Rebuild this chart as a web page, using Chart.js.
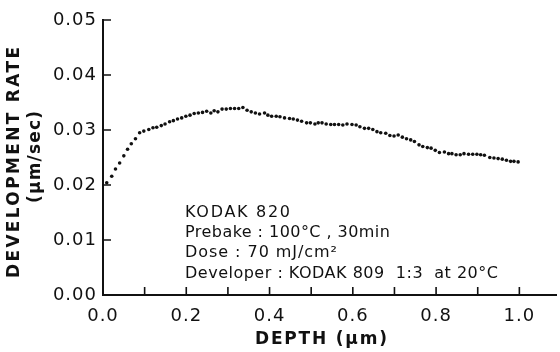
<!DOCTYPE html>
<html>
<head>
<meta charset="utf-8">
<title>Development rate vs depth</title>
<script src="https://cdn.jsdelivr.net/npm/chart.js@4.4.1/dist/chart.umd.min.js"></script>
<style>
  html, body { margin: 0; padding: 0; background: #fff; }
  .chart-box { width: 560px; height: 352px; }
</style>
</head>
<body>
<div class="chart-box"><canvas id="rateChart"></canvas></div>
<script>
// measured dissolution rate through the resist film
const depthUm = [
  0.009, 0.021, 0.030, 0.040, 0.050, 0.059, 0.068, 0.078, 0.088, 0.098,
  0.110, 0.120, 0.129, 0.140, 0.149, 0.160, 0.169, 0.179, 0.189, 0.199,
  0.209, 0.219, 0.229, 0.239, 0.249, 0.259, 0.267, 0.276, 0.286, 0.296,
  0.306, 0.316, 0.326, 0.336, 0.346, 0.356, 0.366, 0.376, 0.388, 0.396,
  0.405, 0.416, 0.425, 0.436, 0.448, 0.457, 0.467, 0.477, 0.489, 0.498,
  0.509, 0.517, 0.526, 0.536, 0.547, 0.556, 0.566, 0.576, 0.586, 0.598,
  0.608, 0.617, 0.628, 0.638, 0.648, 0.658, 0.667, 0.679, 0.689, 0.699,
  0.709, 0.719, 0.729, 0.739, 0.748, 0.759, 0.768, 0.779, 0.788, 0.798,
  0.808, 0.820, 0.830, 0.838, 0.848, 0.858, 0.867, 0.878, 0.888, 0.898,
  0.907, 0.916, 0.929, 0.939, 0.949, 0.959, 0.969, 0.979, 0.987, 0.997
];
const rateUmPerSec = [
  0.0204, 0.0216, 0.0229, 0.0240, 0.0253, 0.0265, 0.0275, 0.0284, 0.0295, 0.0298,
  0.0301, 0.0304, 0.0305, 0.0308, 0.0311, 0.0315, 0.0317, 0.0320, 0.0322, 0.0325,
  0.0327, 0.0330, 0.0331, 0.0332, 0.0334, 0.0331, 0.0335, 0.0333, 0.0338, 0.0338,
  0.0339, 0.0339, 0.0339, 0.0341, 0.0336, 0.0333, 0.0331, 0.0329, 0.0331, 0.0327,
  0.0325, 0.0325, 0.0324, 0.0322, 0.0321, 0.0320, 0.0318, 0.0316, 0.0313, 0.0313,
  0.0311, 0.0313, 0.0313, 0.0311, 0.0310, 0.0310, 0.0310, 0.0309, 0.0311, 0.0310,
  0.0309, 0.0306, 0.0303, 0.0303, 0.0301, 0.0297, 0.0295, 0.0294, 0.0290, 0.0289,
  0.0291, 0.0287, 0.0284, 0.0282, 0.0279, 0.0273, 0.0270, 0.0268, 0.0267, 0.0263,
  0.0259, 0.0260, 0.0257, 0.0257, 0.0255, 0.0255, 0.0257, 0.0256, 0.0256, 0.0256,
  0.0255, 0.0254, 0.0250, 0.0249, 0.0248, 0.0247, 0.0245, 0.0243, 0.0243, 0.0242
];

const xTicks = [0, 0.1, 0.2, 0.3, 0.4, 0.5, 0.6, 0.7, 0.8, 0.9, 1.0];
const xTickLabels = ['0.0', '', '0.2', '', '0.4', '', '0.6', '', '0.8', '', '1.0'];
const yTicks = [0, 0.01, 0.02, 0.03, 0.04, 0.05];
const yTickLabels = ['0.00', '0.01', '0.02', '0.03', '0.04', '0.05'];

const xTitle = 'DEPTH (μm)';
const yTitle = ['DEVELOPMENT RATE', '(μm/sec)'];
const notes = [
  'KODAK 820',
  'Prebake : 100°C , 30min',
  'Dose : 70 mJ/cm²',
  'Developer : KODAK 809  1:3  at 20°C'
];

const INK = '#111';
const FONT = '"DejaVu Sans", sans-serif';

// stretch a line of text out to a given width using canvas letter spacing
function drawStretched(ctx, text, x, y, width) {
  ctx.letterSpacing = '0px';
  const natural = ctx.measureText(text).width;
  const gap = Math.max(0, (width - natural) / Math.max(1, text.length - 1));
  ctx.letterSpacing = gap.toFixed(2) + 'px';
  ctx.fillText(text, x, y);
  ctx.letterSpacing = '0px';
}

// tick labels in the old lettering are set wide
const wideText = {
  id: 'wideText',
  beforeUpdate(chart) { chart.ctx.letterSpacing = '1px'; },
  beforeDraw(chart) { chart.ctx.letterSpacing = '1px'; }
};

// short tick marks pointing into the plot
const innerTicks = {
  id: 'innerTicks',
  afterDraw(chart) {
    const { ctx, chartArea, scales } = chart;
    const len = 8;
    ctx.save();
    ctx.strokeStyle = INK;
    ctx.lineWidth = 1.6;
    ctx.beginPath();
    scales.x.ticks.forEach(t => {
      if (t.value === 0) return;
      const px = scales.x.getPixelForValue(t.value);
      ctx.moveTo(px, chartArea.bottom);
      ctx.lineTo(px, chartArea.bottom - len);
    });
    scales.y.ticks.forEach(t => {
      if (t.value === 0) return;
      const py = scales.y.getPixelForValue(t.value);
      ctx.moveTo(chartArea.left, py);
      ctx.lineTo(chartArea.left + len, py);
    });
    ctx.stroke();
    ctx.restore();
  }
};

// axis titles and the process conditions block
const labels = {
  id: 'labels',
  afterDraw(chart) {
    const { ctx, chartArea } = chart;
    ctx.save();
    ctx.fillStyle = INK;
    ctx.textAlign = 'left';
    ctx.textBaseline = 'middle';

    ctx.font = '600 17px ' + FONT;
    drawStretched(ctx, xTitle, 255, 340, 132);

    ctx.save();
    ctx.translate(15, 162);
    ctx.rotate(-Math.PI / 2);
    drawStretched(ctx, yTitle[0], -116, 0, 231);
    ctx.restore();
    ctx.save();
    ctx.translate(36, 157);
    ctx.rotate(-Math.PI / 2);
    drawStretched(ctx, yTitle[1], -46, 0, 92);
    ctx.restore();

    ctx.font = '16px ' + FONT;
    ctx.textBaseline = 'alphabetic';
    const left = chartArea.left + 82;
    const baselines = [217, 237, 257, 278];
    const widths = [105, 205, 152, 313];
    notes.forEach((line, i) => drawStretched(ctx, line, left, baselines[i], widths[i]));
    ctx.restore();
  }
};

Chart.defaults.font.family = FONT;
Chart.defaults.font.size = 18;
Chart.defaults.color = INK;

new Chart(document.getElementById('rateChart'), {
  type: 'scatter',
  data: {
    datasets: [{
      data: depthUm.map((d, i) => ({ x: d, y: rateUmPerSec[i] })),
      pointRadius: 1.8,
      pointBackgroundColor: INK,
      pointBorderWidth: 0,
      showLine: false
    }]
  },
  options: {
    responsive: true,
    maintainAspectRatio: false,
    animation: false,
    events: [],
    layout: { padding: { top: 20, right: 0, left: 0, bottom: 0 } },
    plugins: { legend: { display: false }, tooltip: { enabled: false } },
    scales: {
      x: {
        type: 'linear',
        min: 0,
        max: 1.088,
        afterBuildTicks: scale => { scale.ticks = xTicks.map(v => ({ value: v })); },
        afterFit: scale => { scale.height = 57; },
        grid: { display: false, drawTicks: false },
        border: { display: true, color: INK, width: 2 },
        ticks: {
          autoSkip: false,
          maxRotation: 0,
          padding: 11,
          callback: (v, i) => xTickLabels[i]
        }
      },
      y: {
        type: 'linear',
        min: 0,
        max: 0.05,
        afterBuildTicks: scale => { scale.ticks = yTicks.map(v => ({ value: v })); },
        afterFit: scale => { scale.width = 103; },
        grid: { display: false, drawTicks: false },
        border: { display: true, color: INK, width: 2 },
        ticks: {
          autoSkip: false,
          padding: 6,
          callback: (v, i) => yTickLabels[i]
        }
      }
    }
  },
  plugins: [wideText, innerTicks, labels]
});
</script>
</body>
</html>
